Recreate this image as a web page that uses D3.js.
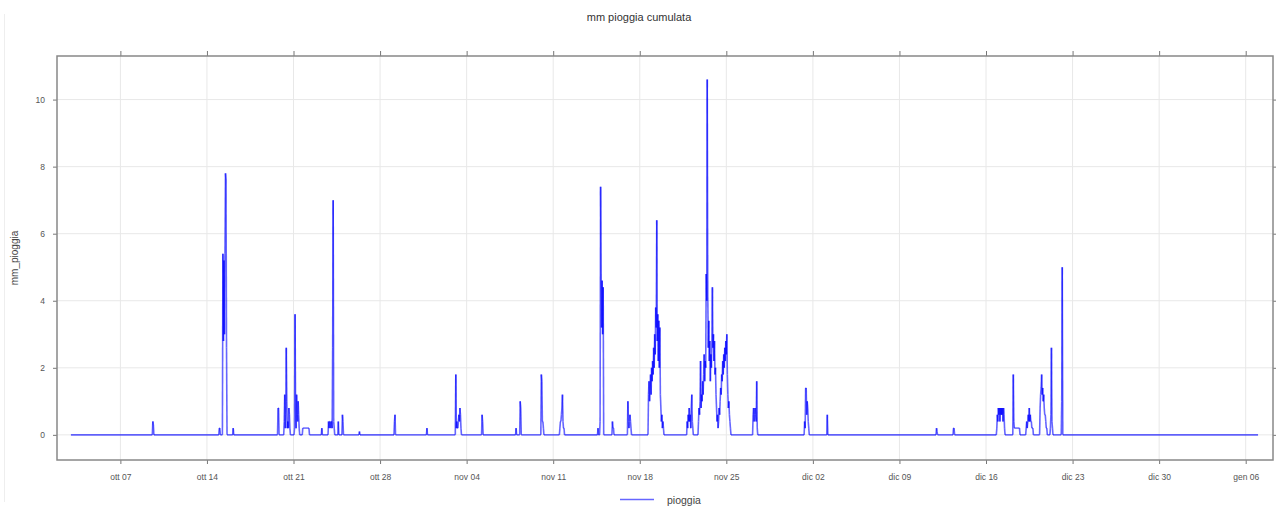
<!DOCTYPE html>
<html>
<head>
<meta charset="utf-8">
<script src="https://cdn.jsdelivr.net/npm/d3@7"></script>
<style>
  body { margin: 0; background: #fff; }
  svg { font-family: Arial, "Liberation Sans", sans-serif; }
</style>
</head>
<body>
<svg id="chart" width="1276" height="507"></svg>
<script>
// Data: hourly rain (mm), one array per rainy spell, starting at eventStart
const eventStart = [
  "2018-10-03T00", "2018-10-09T14", "2018-10-14T23", "2018-10-15T06", "2018-10-16T02",
  "2018-10-19T17", "2018-10-20T05", "2018-10-21T01", "2018-10-21T17", "2018-10-23T06",
  "2018-10-23T19", "2018-10-24T14", "2018-10-24T22", "2018-10-26T07", "2018-10-29T03",
  "2018-10-31T18", "2018-11-03T02", "2018-11-05T05", "2018-11-07T23", "2018-11-08T07",
  "2018-11-10T00", "2018-11-11T12", "2018-11-14T14", "2018-11-14T18", "2018-11-15T18",
  "2018-11-17T00", "2018-11-18T16", "2018-11-21T19", "2018-11-22T17", "2018-11-27T03",
  "2018-12-01T07", "2018-12-03T03", "2018-12-11T23", "2018-12-13T08", "2018-12-16T20",
  "2018-12-18T04", "2018-12-19T05", "2018-12-20T08", "2018-12-21T04", "2018-12-22T02",
  "2019-01-07T00"
];
const eventMm = [
  [0],
  [0, 0.4, 0.3, 0],
  [0, 0.2, 0.2, 0],
  [0, 5.4, 2.8, 5.2, 3.0, 5.4, 7.8, 7.6, 2.6, 0],
  [0, 0.2, 0],
  [0, 0.8, 0.8, 0],
  [0, 0.4, 1.2, 0.2, 0.6, 2.6, 1.0, 0.2, 0.4, 0.2, 0.8, 0.6, 0.2, 0],
  [0, 0.2, 3.6, 0.8, 0.2, 1.2, 0.6, 0.4, 1.0, 0.6, 0.2, 0],
  [0, 0.2, 0.2, 0.2, 0.2, 0.2, 0.2, 0.2, 0.2, 0.2, 0.2, 0.2, 0.2, 0.2, 0],
  [0, 0.2, 0],
  [0, 0.4, 0.2, 0.4, 0.4, 0.2, 0.4, 0.4, 0.2, 2.6, 7.0, 0.4, 0.2, 0],
  [0, 0.4, 0],
  [0, 0.6, 0.4, 0],
  [0, 0.1, 0],
  [0, 0.4, 0.6, 0],
  [0, 0.2, 0],
  [0, 1.8, 0.2, 0.4, 0.2, 0.2, 0.4, 0.6, 0.4, 0.8, 0.6, 0.2, 0],
  [0, 0.6, 0.4, 0],
  [0, 0.2, 0],
  [0, 1.0, 0.8, 0],
  [0, 1.8, 1.6, 0.4, 0.4, 0.2, 0],
  [0, 0.2, 0.4, 0.4, 0.6, 0.8, 1.2, 0.4, 0.2, 0.2, 0],
  [0, 0.2, 0],
  [0, 0.4, 7.4, 4.8, 3.2, 4.6, 3.0, 4.4, 0],
  [0, 0.4, 0.2, 0.2, 0],
  [0, 1.0, 0.4, 0.2, 0.4, 0.6, 0.4, 0.2, 0],
  [0, 1.2, 1.6, 1.0, 1.4, 1.8, 1.2, 2.0, 1.6, 2.2, 1.8, 2.6, 2.0, 3.0, 2.4, 3.8, 3.2, 6.4,
   2.8, 3.6, 2.2, 3.4, 2.0, 3.2, 1.2, 0.8, 0.4, 0.6, 0.2, 0.4, 0.2, 0],
  [0, 0.4, 0.2, 0.6, 0.4, 0.8, 0.4, 0.6, 0.2, 0.8, 1.2, 0.4, 0.2, 0],
  [0, 0.4, 0.8, 0.6, 1.0, 2.2, 0.8, 1.2, 1.0, 1.6, 1.2, 1.8, 2.4, 1.6, 2.2, 2.0, 4.8, 4.0,
   10.6, 4.2, 2.6, 3.4, 2.2, 2.8, 1.6, 2.4, 2.0, 2.8, 4.4, 2.6, 3.0, 2.2, 2.8, 1.8, 2.0,
   1.2, 0.8, 0.4, 0.6, 0.2, 0.4, 0.8, 0.6, 1.0, 1.4, 1.2, 1.8, 1.6, 2.2, 1.8, 2.4, 2.0,
   2.6, 2.2, 2.8, 2.4, 3.0, 1.8, 1.2, 0.8, 1.0, 0.6, 0.4, 0.2, 0],
  [0, 0.6, 0.8, 0.4, 0.6, 0.8, 0.6, 0.4, 1.6, 0.2, 0],
  [0, 0.4, 0.2, 1.4, 1.4, 0.6, 1.0, 0.8, 0.4, 0.2, 0],
  [0, 0.6, 0],
  [0, 0.2, 0.1, 0],
  [0, 0.2, 0.2, 0],
  [0, 0.2, 0.6, 0.4, 0.8, 0.6, 0.8, 0.4, 0.8, 0.6, 0.8, 0.6, 0.8, 0.4, 0.8, 0.6, 0.2, 0],
  [0, 1.8, 0.4, 0.2, 0.2, 0.2, 0.2, 0.2, 0.2, 0.2, 0.2, 0.2, 0.2, 0.2, 0],
  [0, 0.2, 0.4, 0.2, 0.4, 0.6, 0.4, 0.8, 0.4, 0.6, 0.4, 0.4, 0.2, 0.2, 0.2, 0],
  [0, 0.8, 1.2, 1.4, 1.8, 1.2, 1.4, 1.0, 1.2, 0.8, 0.6, 0.6, 0.4, 0.2, 0.2, 0],
  [0, 0.2, 0.6, 2.6, 0.4, 0.2, 0],
  [0, 1.0, 5.0, 0],
  [0]
];

const xDomain = ["2018-10-01T21", "2019-01-08T05"];
const xTickDates = [
  "2018-10-07", "2018-10-14", "2018-10-21", "2018-10-28", "2018-11-04", "2018-11-11",
  "2018-11-18", "2018-11-25", "2018-12-02", "2018-12-09", "2018-12-16", "2018-12-23",
  "2018-12-30", "2019-01-06"
];
const monthsIt = ["gen", "feb", "mar", "apr", "mag", "giu", "lug", "ago", "set", "ott", "nov", "dic"];
const yTicks = [0, 2, 4, 6, 8, 10];
const yDomain = [-0.75, 11.3];

const svg = d3.select('#chart');
const margin = { top: 56, right: 3, bottom: 47, left: 57 };
const width = 1276 - margin.left - margin.right;
const height = 507 - margin.top - margin.bottom;

const parseHour = d3.utcParse('%Y-%m-%dT%H');
const parseDay = d3.utcParse('%Y-%m-%d');

const points = [];
eventStart.forEach((s, i) => {
  const t0 = parseHour(s);
  eventMm[i].forEach((v, k) => points.push({ t: d3.utcHour.offset(t0, k), v: v }));
});

const x = d3.scaleUtc()
  .domain(xDomain.map(parseHour))
  .range([0, width]);

const y = d3.scaleLinear()
  .domain(yDomain)
  .range([height, 0]);

const ticksX = xTickDates.map(parseDay);
const fmtX = d => monthsIt[d.getUTCMonth()] + ' ' + d3.utcFormat('%d')(d);

// faint page border on the left
svg.append('line')
  .attr('x1', 4.5).attr('x2', 4.5)
  .attr('y1', 14).attr('y2', 502)
  .attr('stroke', '#eeeeee');

svg.append('text')
  .attr('x', 639)
  .attr('y', 21)
  .attr('text-anchor', 'middle')
  .attr('font-size', 11)
  .attr('fill', '#333')
  .text('mm pioggia cumulata');

const g = svg.append('g')
  .attr('transform', `translate(${margin.left},${margin.top})`);

// Grid
g.append('g')
  .selectAll('line')
  .data(ticksX)
  .enter()
  .append('line')
  .attr('x1', d => x(d)).attr('x2', d => x(d))
  .attr('y1', 0).attr('y2', height)
  .attr('stroke', '#e8e8e8');

g.append('g')
  .selectAll('line')
  .data(yTicks)
  .enter()
  .append('line')
  .attr('x1', 0).attr('x2', width)
  .attr('y1', d => y(d)).attr('y2', d => y(d))
  .attr('stroke', '#e8e8e8');

// Rain line, drawn segment by segment so overlapping strokes darken
g.append('g')
  .selectAll('line')
  .data(d3.pairs(points))
  .enter()
  .append('line')
  .attr('x1', d => x(d[0].t))
  .attr('y1', d => y(d[0].v))
  .attr('x2', d => x(d[1].t))
  .attr('y2', d => y(d[1].v))
  .attr('stroke', '#0000ff')
  .attr('stroke-opacity', 0.6)
  .attr('stroke-width', 1.6);

// Axes
function styleAxis(sel) {
  sel.select('.domain').remove();
  sel.selectAll('line').attr('stroke', '#777');
  sel.selectAll('text').attr('fill', '#555').attr('font-size', 8.5)
    .attr('font-family', 'Arial, "Liberation Sans", sans-serif');
}

g.append('g')
  .attr('transform', `translate(0,${height})`)
  .call(d3.axisBottom(x).tickValues(ticksX).tickFormat(fmtX).tickSize(4).tickPadding(10))
  .call(styleAxis);

g.append('g')
  .call(d3.axisTop(x).tickValues(ticksX).tickFormat('').tickSize(5))
  .call(styleAxis);

g.append('g')
  .call(d3.axisLeft(y).tickValues(yTicks).tickFormat(d3.format('d')).tickSize(4).tickPadding(8))
  .call(styleAxis);

g.append('g')
  .attr('transform', `translate(${width},0)`)
  .call(d3.axisRight(y).tickValues(yTicks).tickFormat('').tickSize(4))
  .call(styleAxis);

// Frame
g.append('rect')
  .attr('width', width)
  .attr('height', height)
  .attr('fill', 'none')
  .attr('stroke', '#888')
  .attr('stroke-width', 1.5);

// Axis label
svg.append('text')
  .attr('transform', 'rotate(-90)')
  .attr('x', -(margin.top + height / 2))
  .attr('y', 18)
  .attr('text-anchor', 'middle')
  .attr('font-size', 10)
  .attr('fill', '#444')
  .text('mm_pioggia');

// Legend
svg.append('line')
  .attr('x1', 620).attr('x2', 654)
  .attr('y1', 499.5).attr('y2', 499.5)
  .attr('stroke', '#0000ff')
  .attr('stroke-opacity', 0.6)
  .attr('stroke-width', 1.6);

svg.append('text')
  .attr('x', 667)
  .attr('y', 503.5)
  .attr('font-size', 10.5)
  .attr('fill', '#444')
  .text('pioggia');
</script>
</body>
</html>
